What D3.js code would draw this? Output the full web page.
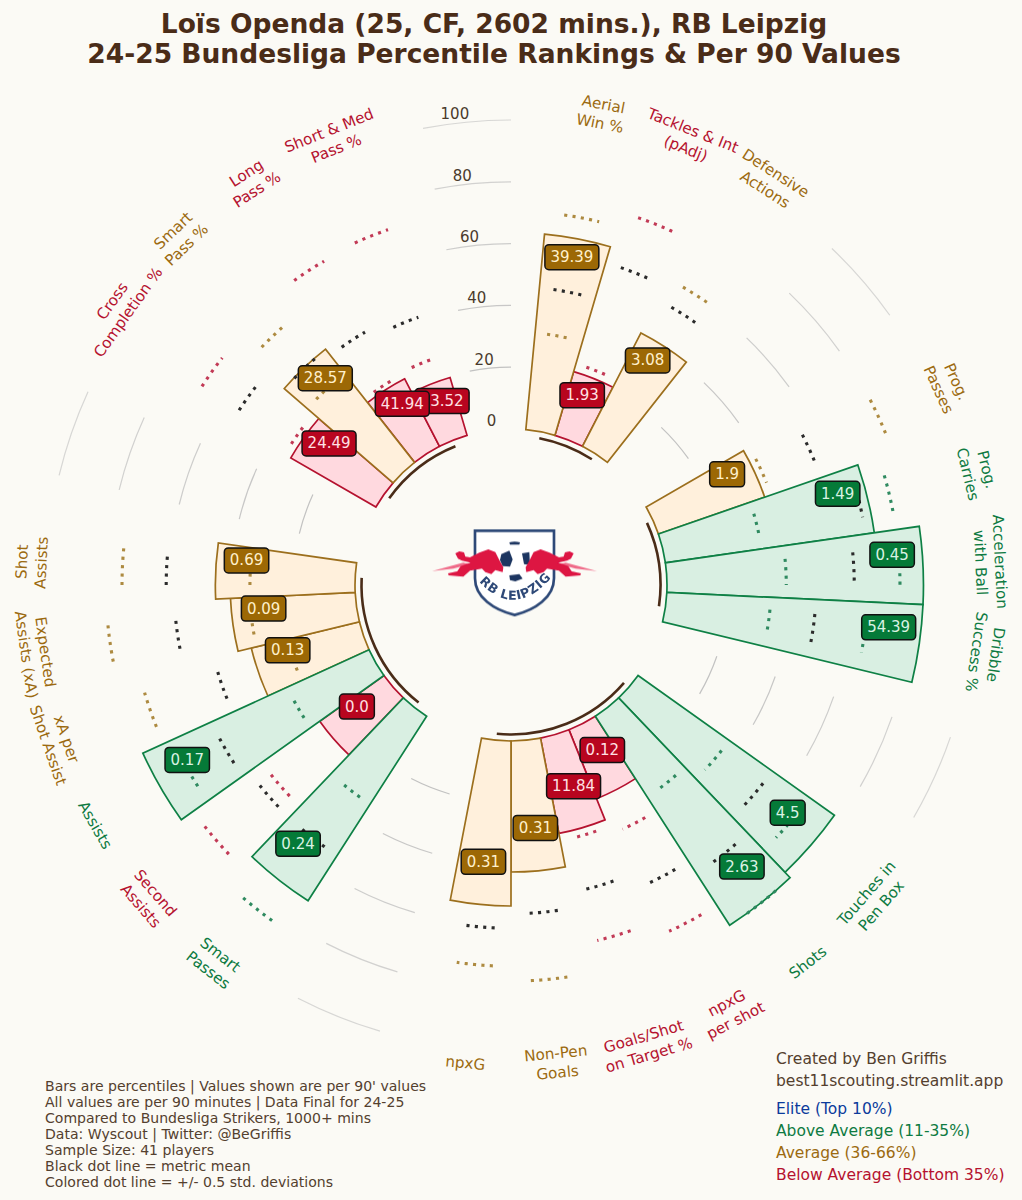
<!DOCTYPE html>
<html><head><meta charset="utf-8">
<script src="https://cdn.jsdelivr.net/npm/d3@7"></script>
<style>html,body{margin:0;padding:0;background:#fbfaf5}svg{display:block}text{font-family:"DejaVu Sans",sans-serif}</style>
</head><body><div id="c"></div>
<script>
const titleLines = ["Loïs Openda (25, CF, 2602 mins.), RB Leipzig","24-25 Bundesliga Percentile Rankings & Per 90 Values"];
const metrics = [["Aerial","Win %"],["Tackles & Int","(pAdj)"],["Defensive","Actions"],
 ["Prog.","Passes"],["Prog.","Carries"],["Acceleration","with Ball"],["Dribble","Success %"],
 ["Touches in","Pen Box"],["Shots"],["npxG","per shot"],["Goals/Shot","on Target %"],["Non-Pen","Goals"],["npxG"],
 ["Smart","Passes"],["Second","Assists"],["Assists"],["xA per","Shot Assist"],["Expected","Assists (xA)"],["Shot","Assists"],
 ["Cross","Completion %"],["Smart","Pass %"],["Long","Pass %"],["Short & Med","Pass %"]];
const groupSizes = [3,4,6,6,4];
const percentiles = [63.6,21.5,41.3,36.4,68.3,83,83,78,80.4,24,31.4,42.4,53.4,71,25.5,80.5,36,40.4,45.2,31.8,46.6,24.6,19.5];
const values = ["39.39","1.93","3.08","1.9","1.49","0.45","54.39","4.5","2.63","0.12","11.84","0.31","0.31","0.24","0.0","0.17","0.13","0.09","0.69","24.49","28.57","41.94","73.52"];
const lowerBand = [31.5,24.1,34.6,38.6,31.4,38.6,33.7,36.2,31,36.4,33.8,28,39.5,33.8,48.5,29.1,24,34.2,34,34,36.6,26.1,26.9];
const meanLine = [46.1,58.2,53.3,55.6,65.4,60.6,48.3,53.3,60.5,55.8,50.9,55.9,60.6,53.5,53.5,56.1,48.5,58.6,61.1,54.1,46.4,44,41.2];
const upperBand = [70.5,75.3,60.8,80.3,75.4,75.4,65,68,80.4,72.7,67.9,77.7,72.9,82.8,75.7,70,73.1,80.6,75.4,68.4,61,70.5,71.2];
const gridTicks = [0,20,40,60,80,100];
const notes = ["Bars are percentiles | Values shown are per 90' values","All values are per 90 minutes | Data Final for 24-25","Compared to Bundesliga Strikers, 1000+ mins","Data: Wyscout | Twitter: @BeGriffis","Sample Size: 41 players","Black dot line = metric mean","Colored dot line = +/- 0.5 std. deviations"];
const credits = ["Created by Ben Griffis","best11scouting.streamlit.app"];
const legendItems = ["Elite (Top 10%)","Above Average (11-35%)","Average (36-66%)","Below Average (Bottom 35%)"];

const W=1022,H=1200,cx=511,cy=585;
const brown="#4a2c18";
const palette={
 elite:{line:"#0b3a9c",fill:"#dbe4f7",box:"#0b3a9c",txt:"#dbe4f7",dot:"#3a5fb0",label:"#0b3a9c"},
 above:{line:"#0e8045",fill:"#d9efe2",box:"#057a38",txt:"#d9f2e3",dot:"#2f8a60",label:"#0e7a42"},
 avg:{line:"#9c6f1d",fill:"#fff0dc",box:"#9c6805",txt:"#fff0cc",dot:"#ad8a40",label:"#9c6a10"},
 below:{line:"#b5122f",fill:"#ffd9df",box:"#b8051f",txt:"#ffe0e4",dot:"#c23a56",label:"#b5122f"}};
const tier=d3.scaleThreshold().domain([36,66,90]).range(["below","avg","above","elite"]);
const order={below:0,avg:1,above:2,elite:3};
const r=d3.scaleLinear().domain([0,100]).range([156,465]);
const totalSlots=d3.sum(groupSizes)+2*groupSizes.length;
const slot=d3.scaleLinear().domain([0,totalSlots]).range([Math.PI*2/totalSlots/2,Math.PI*2/totalSlots/2+Math.PI*2]);
const deg=a=>a*180/Math.PI;
let k=0;const slotOf=[];const groups=[];const gaps=[];
groupSizes.forEach(n=>{const s=k;for(let i=0;i<n;i++){slotOf.push(k++);}groups.push([s,k-1]);gaps.push(k);k+=2;});
const rows=metrics.map((m,i)=>({m,i,p:percentiles[i],val:values[i],lo:lowerBand[i],mean:meanLine[i],hi:upperBand[i],s:slotOf[i],t:tier(percentiles[i])}));

const svg=d3.select("#c").append("svg").attr("width",W).attr("height",H).attr("viewBox",`0 0 ${W} ${H}`);
svg.append("rect").attr("width",W).attr("height",H).attr("fill","#fbfaf5");
const defs=svg.append("defs");
defs.append("filter").attr("id","soft").append("feGaussianBlur").attr("stdDeviation",1.4);

svg.append("g").selectAll("text").data(titleLines).join("text")
 .attr("x",494).attr("y",(d,i)=>33+i*29.5).attr("text-anchor","middle").attr("font-weight","bold").attr("font-size",26.5).attr("fill",brown).text(d=>d);

const g=svg.append("g").attr("transform",`translate(${cx},${cy})`);
const arcLine=(rad,a0,a1)=>{const p=d3.path();p.arc(0,0,rad,a0-Math.PI/2,a1-Math.PI/2);return p.toString();};

// grid arcs in the gaps
const gridData=[];
gaps.forEach(s=>{const mid=s+1;gridTicks.slice(1).forEach(t=>gridData.push({t,a0:slot(mid-0.5),a1:slot(mid+0.5)}));});
g.append("g").selectAll("path").data(gridData).join("path")
 .attr("d",d=>arcLine(r(d.t),d.a0,d.a1)).attr("fill","none").attr("stroke","#bdbdbd").attr("stroke-width",1.2)
 .attr("stroke-opacity",d=>1-d.t*0.0042);
// radial tick labels
const tickAng=-6.8*Math.PI/180;
g.append("g").selectAll("text").data(gridTicks).join("text")
 .attr("x",d=>(r(d)+9)*Math.sin(tickAng)).attr("y",d=>-(r(d)+9)*Math.cos(tickAng))
 .attr("text-anchor","middle").attr("dominant-baseline","central").attr("font-size",15).attr("fill","#4a3a2c").text(d=>d);

// group arcs
g.append("g").selectAll("path").data(groups).join("path")
 .attr("d",d=>arcLine(149.5,slot(d[0]+0.5),slot(d[1]+0.5))).attr("fill","none").attr("stroke",brown).attr("stroke-width",2.6);

// bars
const barArc=d3.arc().innerRadius(156).outerRadius(d=>r(d.p)).startAngle(d=>slot(d.s)).endAngle(d=>slot(d.s+1));
g.append("g").selectAll("path").data(rows.slice().sort((a,b)=>order[a.t]-order[b.t])).join("path")
 .attr("d",barArc).attr("fill",d=>palette[d.t].fill).attr("stroke",d=>palette[d.t].line).attr("stroke-width",1.7).attr("stroke-linejoin","miter");

// dotted reference lines
const dotData=rows.flatMap(d=>[{d,v:d.lo,c:palette[d.t].dot},{d,v:d.hi,c:palette[d.t].dot},{d,v:d.mean,c:"#2b2b2b"}]);
g.append("g").selectAll("path").data(dotData).join("path")
 .attr("d",o=>arcLine(r(o.v),slot(o.d.s+0.25),slot(o.d.s+0.75))).attr("fill","none").attr("stroke",o=>o.c)
 .attr("stroke-width",3.1).attr("stroke-dasharray","3.1 5.3");

// metric labels
const labelG=g.append("g");
rows.forEach(d=>{
 const a=slot(d.s+0.5),dg=deg(a),R=480;
 const rot=dg<110?dg:dg<270?dg-180:dg-360;
 const t=labelG.append("text").attr("transform",`translate(${R*Math.sin(a)},${-R*Math.cos(a)}) rotate(${rot})`)
  .attr("text-anchor","middle").attr("font-size",15.2).attr("fill",palette[d.t].label);
 const lh=19.5,n=d.m.length;
 d.m.forEach((line,j)=>t.append("tspan").attr("x",0).attr("y",(j-(n-1)/2)*lh).attr("dy","0.35em").text(line));
});

// value boxes (reverse order so earlier metrics sit on top)
const boxG=g.append("g");
rows.slice().reverse().forEach(d=>{
 const a=slot(d.s+0.5),R=r(d.p-10),x=R*Math.sin(a),y=-R*Math.cos(a)-12;
 const gg=boxG.append("g").attr("transform",`translate(${x},${y})`);
 const rect=gg.append("rect");
 const t=gg.append("text").attr("text-anchor","middle").attr("dominant-baseline","central").attr("font-size",15).attr("fill",palette[d.t].txt).text(d.val);
 const w=t.node().getComputedTextLength()+11;
 rect.attr("x",-w/2).attr("y",-12.5).attr("width",w).attr("height",25).attr("rx",4).attr("fill",palette[d.t].box).attr("stroke","#111").attr("stroke-width",1.5);
});

// notes
svg.append("g").selectAll("text").data(notes).join("text").attr("x",45).attr("y",(d,i)=>1091+i*16).attr("font-size",14.05).attr("fill","#54402e").text(d=>d);
svg.append("g").selectAll("text").data(credits).join("text").attr("x",776).attr("y",(d,i)=>1064+i*22).attr("font-size",15.5).attr("fill","#54402e").text(d=>d);
const legendKeys=["elite","above","avg","below"];
svg.append("g").selectAll("text").data(legendItems).join("text").attr("x",776).attr("y",(d,i)=>1114+i*22).attr("font-size",15.5).attr("fill",(d,i)=>palette[legendKeys[i]].label).text(d=>d);

// crest (in zoom units, 3 per pixel)
const crest=svg.append("g").attr("transform","translate(420,510) scale(0.3333)");
const inner=crest.append("g").attr("filter","url(#soft)");
inner.append("path").attr("d","M165 62 H402 V205 C402 262 345 300 284 315 C222 300 165 262 165 205 Z").attr("fill","#fff").attr("stroke","#2f4a78").attr("stroke-width",8);
inner.append("circle").attr("cx",284).attr("cy",150).attr("r",60).attr("fill","#fff");
const ballBits=["M244 132 L268 122 L278 148 L270 170 L248 168 L240 150 Z","M268 97 Q284 92 300 97 L298 104 L270 104 Z","M306 130 L328 126 L330 165 L312 162 Z","M268 196 L298 192 L308 206 L286 214 L270 210 Z"];
inner.selectAll("path.b").data(ballBits).join("path").attr("class","b").attr("d",d=>d).attr("fill","#1d3560");
const streak="M36 183 L130 158 L150 162 L100 176 Z";
const bull="M106 130 L118 124 L132 127 L136 140 L150 142 L178 128 L205 118 L226 126 L238 150 L250 172 L248 186 L226 180 L214 192 L196 186 L186 176 L150 182 L130 200 L86 196 L84 190 L112 184 L122 168 L152 158 L126 152 L114 146 Z";
[["",1],["translate(567,0) scale(-1,1)",1]].forEach(([tr])=>{
 const b=inner.append("g").attr("transform",tr);
 b.append("path").attr("d",streak).attr("fill","#ef6a88");
 b.append("path").attr("d",bull).attr("fill","#dd1242");
});
defs.append("path").attr("id","crestArc").attr("d","M184 222 Q284 322 388 210");
inner.append("text").attr("font-size",38).attr("font-weight","bold").attr("fill","#2f4a78").attr("letter-spacing",2).attr("font-family","Liberation Sans Narrow, Liberation Sans, sans-serif")
 .append("textPath").attr("href","#crestArc").attr("startOffset","50%").attr("text-anchor","middle").text("RB LEIPZIG");
</script></body></html>
